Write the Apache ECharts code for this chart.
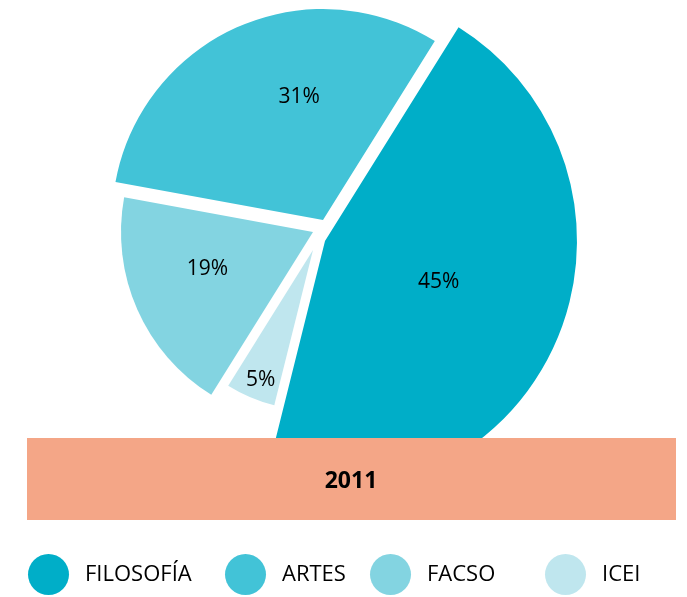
<!DOCTYPE html>
<html>
<head>
<meta charset="utf-8">
<script src="https://cdn.jsdelivr.net/npm/echarts@6/dist/echarts.min.js"></script>
<style>
  html, body { margin: 0; padding: 0; background: #fff; }
  #pie-chart { width: 687px; height: 597px; }
</style>
</head>
<body>
<div id="pie-chart"></div>
<script>
// datos 2011
const categories = ['FILOSOFÍA', 'ARTES', 'FACSO', 'ICEI'];
const values = [45, 31, 19, 5];
const colors = ['#00aec8', '#42c3d7', '#83d4e1', '#bfe6ee'];
const yearLabel = '2011';

// cada porcion se dibuja en su propia serie (desplazada y con su radio)
const sliceCenters = [[325, 241], [323, 220], [313, 232], [313, 250]];
const sliceRadius = [252, 211, 192, 160];
const labelShift = [[-5, -9], [20, -24], [-15, -3], [-20, 54]];
const legendLeft = [28, 225, 370, 545];

const FONT = '"Open Sans", "Noto Sans", sans-serif';

const chartDom = document.getElementById('pie-chart');
const myChart = echarts.init(chartDom);

const series = categories.map((name, k) => ({
  type: 'pie',
  name: name,
  center: sliceCenters[k],
  radius: [0, sliceRadius[k]],
  startAngle: 256,
  clockwise: false,
  avoidLabelOverlap: false,
  silent: true,
  animation: false,
  labelLine: { show: false },
  labelLayout: { dx: labelShift[k][0], dy: labelShift[k][1] },
  data: categories.map((c, i) => ({
    name: c,
    value: values[i],
    itemStyle: {
      color: i === k ? colors[i] : 'rgba(0,0,0,0)',
      borderWidth: 0
    },
    label: {
      show: i === k,
      position: 'inside',
      formatter: '{c}%',
      color: '#000',
      fontSize: 21,
      fontFamily: FONT
    }
  }))
}));

const legends = categories.map((name, i) => ({
  left: legendLeft[i],
  top: 554,
  padding: 0,
  orient: 'horizontal',
  icon: 'circle',
  itemWidth: 41,
  itemHeight: 41,
  selectedMode: false,
  textStyle: {
    color: '#000',
    fontSize: 22,
    fontFamily: FONT,
    padding: [0, 0, 0, 11]
  },
  data: [{ name: name, itemStyle: { color: colors[i] } }]
}));

const option = {
  backgroundColor: '#ffffff',
  legend: legends,
  series: series,
  graphic: [
    {
      type: 'rect',
      z: 100,
      shape: { x: 27, y: 438, width: 649, height: 82 },
      style: { fill: '#f4a687' }
    },
    {
      type: 'text',
      z: 101,
      x: 351,
      y: 481,
      style: {
        text: yearLabel,
        fill: '#000',
        font: 'bold 23px ' + FONT,
        textAlign: 'center',
        textVerticalAlign: 'middle'
      }
    }
  ]
};

myChart.setOption(option);
</script>
</body>
</html>
